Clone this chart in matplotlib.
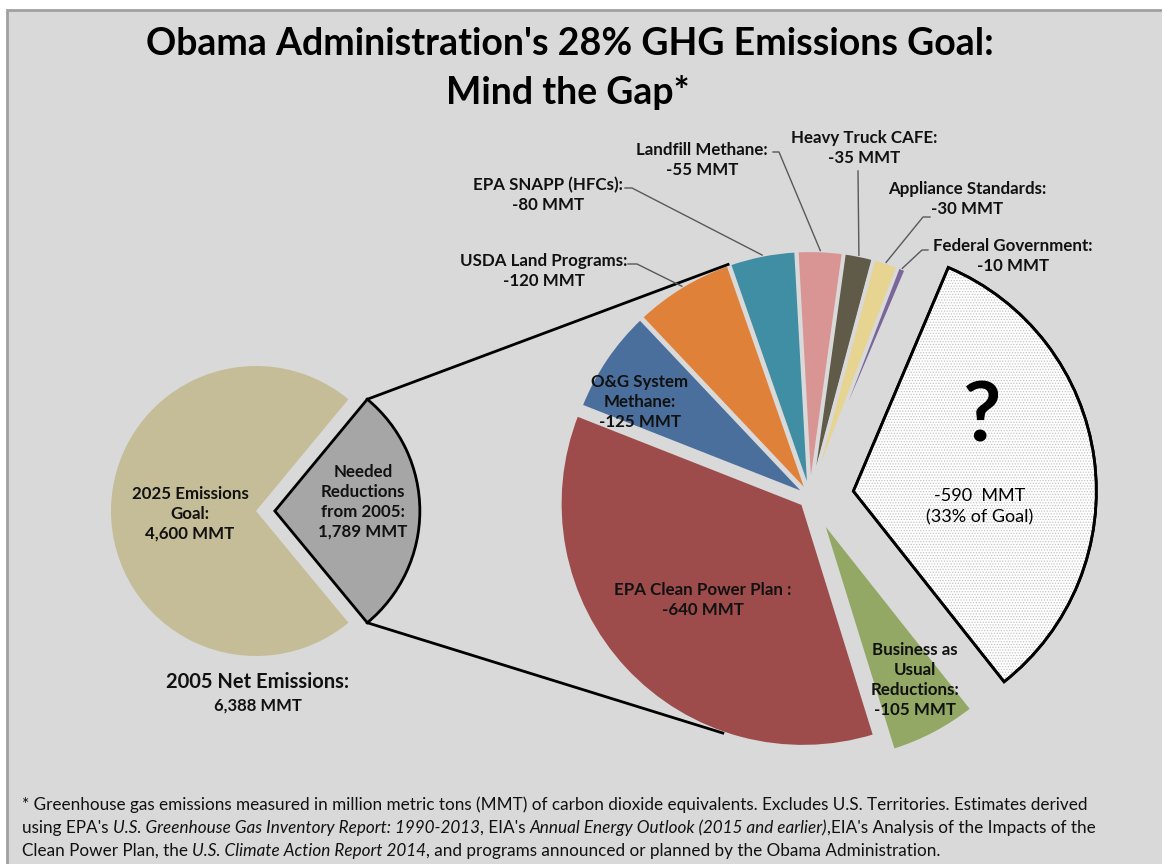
import matplotlib
matplotlib.use("Agg")
import matplotlib.pyplot as plt
from matplotlib.patches import Wedge, Rectangle
import numpy as np

plt.rcParams['font.family'] = ['Lato', 'DejaVu Sans']
plt.rcParams['hatch.linewidth'] = 0.6

W, H = 1162, 864
BG = "#d9d9d9"

# left pie: 2005 net emissions split
left_labels = ["2025 Emissions\nGoal:\n4,600 MMT", "Needed\nReductions\nfrom 2005:\n1,789 MMT"]
left_values = [4600, 1789]
left_colors = ["#c4bd97", "#a6a6a6"]

# right pie: needed reductions, clockwise starting at the gap
right_names = ["?", "Business as\nUsual\nReductions:", "EPA Clean Power Plan :",
               "O&G System\nMethane:", "USDA Land Programs:", "EPA SNAPP (HFCs):",
               "Landfill Methane:", "Heavy Truck CAFE:", "Appliance Standards:",
               "Federal Government:"]
right_values = [590, 105, 640, 125, 120, 80, 55, 35, 30, 10]
right_colors = ["#ffffff", "#93a865", "#9d4b4b", "#4b6f9c", "#e0813a", "#3f8ea3",
                "#d99594", "#5f5b48", "#e6d490", "#7a669b"]
right_explode = [0.18, 0.10, 0.04, 0.015, 0.015, 0.015, 0.015, 0.015, 0.015, 0.015]

title_lines = ["Obama Administration's 28% GHG Emissions Goal:", "Mind the Gap*"]
foot_lines = [
    [("* Greenhouse gas emissions measured in million metric tons (MMT) of carbon dioxide equivalents. Excludes U.S. Territories. Estimates derived", "normal")],
    [("using EPA's ", "normal"), ("U.S. Greenhouse Gas Inventory Report: 1990-2013", "italic"),
     (", EIA's ", "normal"), ("Annual Energy Outlook (2015 and earlier)", "italic"),
     (",EIA's Analysis of the Impacts of the", "normal")],
    [("Clean Power Plan, the ", "normal"), ("U.S. Climate Action Report 2014", "italic"),
     (", and programs announced or planned by the Obama Administration.", "normal")],
]


def Y(y):
    return H - y


fig = plt.figure(figsize=(W / 100, H / 100), dpi=100, facecolor="white")
ax = fig.add_axes([0, 0, 1, 1])

ax.add_patch(Rectangle((7, -20), 1300, Y(10) + 20, facecolor=BG, edgecolor="#a0a0a0",
                       lw=2, zorder=0))

# left pie, gray wedge centred on the right side
R1 = 145
c1 = (256, Y(511))
lw_, _ = ax.pie(left_values, colors=left_colors, center=c1, radius=R1,
                startangle=180 * left_values[1] / sum(left_values),
                counterclock=True, explode=[0, 0.13 * R1],
                wedgeprops=dict(linewidth=0))
gray = lw_[1]
gray.set_edgecolor("black")
gray.set_linewidth(2)

# right pie
R2 = 243
c2 = (810, Y(497))
rw, _ = ax.pie(right_values, colors=right_colors, center=c2, radius=R2,
               startangle=67, counterclock=False,
               explode=[e * R2 for e in right_explode],
               wedgeprops=dict(edgecolor=BG, linewidth=2.5))

q = rw[0]
q.set_edgecolor("black")
q.set_linewidth(2)
ax.add_patch(Wedge(q.center, q.r, q.theta1, q.theta2, facecolor="none",
                   edgecolor="#c4c4c4", hatch="......", lw=0, zorder=q.get_zorder() + 0.1))
ax.add_patch(Wedge(q.center, q.r, q.theta1, q.theta2, fill=False,
                   edgecolor="black", lw=2, zorder=q.get_zorder() + 0.2))


def edge_pt(w, ang):
    t = np.deg2rad(ang)
    return w.center[0] + w.r * np.cos(t), w.center[1] + w.r * np.sin(t)


# connector lines from the gray wedge to the right pie
g1 = edge_pt(gray, gray.theta2)
g2 = edge_pt(gray, gray.theta1)
top_ang = rw[4].theta1
p1 = edge_pt(rw[4], top_ang)
p2 = edge_pt(rw[2], -top_ang)
ax.plot([g1[0], p1[0]], [g1[1], p1[1]], color="black", lw=2, zorder=3)
ax.plot([g2[0], p2[0]], [g2[1], p2[1]], color="black", lw=2, zorder=3)

fs = 12.2
txt = dict(fontsize=fs, fontweight="bold", ha="center", va="center", color="#111111",
           linespacing=1.3, zorder=5)

# left pie labels
ax.text(190, Y(514), left_labels[0], **txt)
ax.text(363, Y(502), left_labels[1], **txt)
ax.text(258, Y(682), "2005 Net Emissions:", fontsize=14.5, fontweight="bold",
        ha="center", va="center", color="#111111")
ax.text(258, Y(706), "{:,} MMT".format(sum(left_values) - 1), fontsize=12,
        fontweight="bold", ha="center", va="center", color="#111111")

# labels inside the right pie
vals = ["-{} MMT".format(v) for v in right_values]
ax.text(915, Y(680), right_names[1] + "\n" + vals[1], **txt)
ax.text(703, Y(600), right_names[2] + "\n" + vals[2], **txt)
ax.text(640, Y(402), right_names[3] + "\n" + vals[3], **txt)
ax.text(982, Y(418), "?", fontsize=60, fontweight="bold", ha="center", va="center",
        zorder=5)
ax.text(980, Y(507), "-590  MMT\n(33% of Goal)", fontsize=13, ha="center", va="center",
        linespacing=1.4, zorder=5)

# outside labels with leader lines: (index, text centre, leader start, elbow)
outside = [
    (4, (544, 271), (628, 264), (637, 264)),
    (5, (548, 195), (625, 188), (632, 188)),
    (6, (702, 160), (773, 152), (779, 152)),
    (7, (864, 148), (858, 171), (858, 171)),
    (8, (967, 199), (930, 217), (923, 217)),
    (9, (1013, 256), (928, 250), (922, 250)),
]
for i, (tx, ty), (sx, sy), (ex, ey) in outside:
    ax.text(tx, Y(ty), right_names[i] + "\n" + vals[i], **txt)
    w = rw[i]
    px, py = edge_pt(w, (w.theta1 + w.theta2) / 2)
    ax.plot([sx, ex, px], [Y(sy), Y(ey), py], color="#595959", lw=1, zorder=4)

# title
ax.text(570, Y(44), title_lines[0], fontsize=27, fontweight="bold", ha="center",
        va="center")
ax.text(568, Y(93), title_lines[1], fontsize=27, fontweight="bold", ha="center",
        va="center")

# footnote with mixed italics
foot_font = ["Lato"]
ffs = 12.3
ren = fig.canvas.get_renderer()


def seg_width(s, style):
    a = ax.text(0, 0, "|" + s + "|", fontsize=ffs, style=style, family=foot_font)
    b = ax.text(0, 0, "||", fontsize=ffs, style=style, family=foot_font)
    wdt = a.get_window_extent(renderer=ren).width - b.get_window_extent(renderer=ren).width
    a.remove()
    b.remove()
    return wdt


for line, yy in zip(foot_lines, [805, 828, 851]):
    x = 22
    for s, style in line:
        ax.text(x, Y(yy), s, fontsize=ffs, style=style, family=foot_font, ha="left",
                va="center", color="#111111")
        x += seg_width(s, style)

ax.set_xlim(0, W)
ax.set_ylim(0, H)
ax.set_aspect("auto")
ax.axis("off")
fig.savefig("out.png", dpi=100, facecolor="white")
